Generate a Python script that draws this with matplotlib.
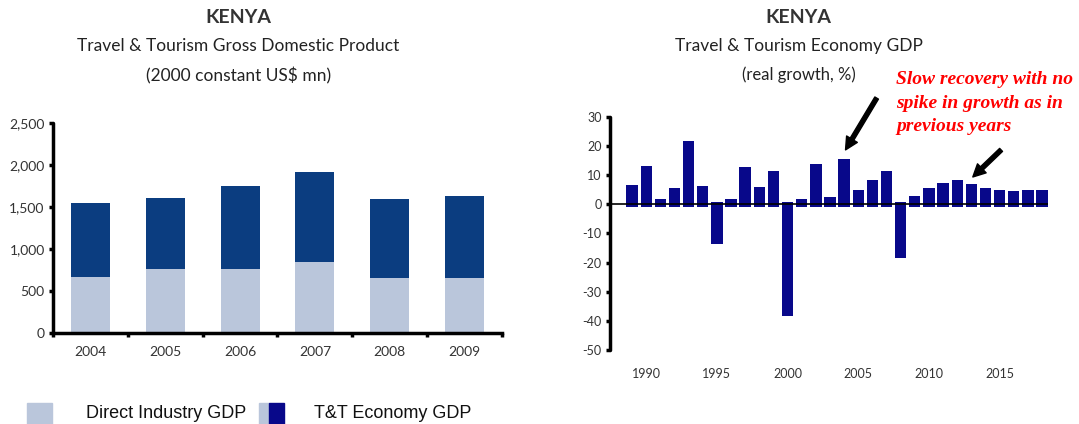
#!/usr/bin/env python
import matplotlib
matplotlib.use('Agg')
import matplotlib.pyplot as plt
from matplotlib.patches import Rectangle
import numpy as np

# left chart: T&T GDP, 2000 constant US$ mn
gdp_years = ['2004', '2005', '2006', '2007', '2008', '2009']
direct_gdp = [665, 763, 763, 843, 653, 653]
economy_gdp = [1551, 1610, 1745, 1919, 1590, 1626]

# right chart: T&T economy GDP real growth, %
growth_years = list(range(1989, 2019))
growth = [6.6, 13.1, 1.7, 5.5, 21.7, 6.3, -13.7, 1.8, 12.9, 5.8,
          11.4, -38.4, 1.8, 13.8, 2.5, 15.7, 5.1, 8.3, 11.4, -18.3,
          3.0, 5.7, 7.4, 8.3, 7.1, 5.7, 4.9, 4.7, 5.0, 5.0]
growth_ticks = [1990, 1995, 2000, 2005, 2010, 2015]

LIGHT = '#bac6db'
DARK = '#0b3d80'
NAVY = '#08088a'
TFONT = 'Lato'


def style_spines(ax):
    for s in ['top', 'right']:
        ax.spines[s].set_visible(False)
    ax.spines['left'].set_linewidth(2.5)
    ax.spines['left'].set_capstyle('round')


def main():
    fig = plt.figure(figsize=(10.79, 4.24), dpi=100)

    # ---- left: stacked bars
    ax1 = fig.add_axes([0.0491, 0.2146, 0.4161, 0.4953])
    x = np.arange(len(gdp_years))
    upper = np.array(economy_gdp) - np.array(direct_gdp)
    ax1.bar(x, direct_gdp, width=0.52, color=LIGHT, zorder=2)
    ax1.bar(x, upper, width=0.52, bottom=direct_gdp, color=DARK, zorder=2)
    ax1.set_xlim(-0.5, len(gdp_years) - 0.5)
    ax1.set_ylim(0, 2500)
    style_spines(ax1)
    ax1.spines['bottom'].set_linewidth(2.5)
    ax1.set_yticks(range(0, 2501, 500))
    ax1.set_yticklabels(['{:,}'.format(v) for v in range(0, 2501, 500)],
                        fontfamily=TFONT, fontsize=10, color='#333333')
    ax1.set_xticks(np.arange(-0.5, len(gdp_years), 1.0))
    ax1.set_xticklabels([])
    ax1.set_xticks(x, minor=True)
    ax1.set_xticklabels(gdp_years, minor=True, fontfamily=TFONT, fontsize=10, color='#333333')
    ax1.tick_params(axis='x', which='major', length=3, width=2.5, direction='out')
    ax1.tick_params(axis='x', which='minor', length=0, pad=9)
    ax1.tick_params(axis='y', length=3, width=2.5, pad=3)

    fig.text(0.221, 0.958, 'KENYA', ha='center', va='center', fontfamily=TFONT,
             fontweight='bold', fontsize=14, color='#333333')
    fig.text(0.221, 0.892, 'Travel & Tourism Gross Domestic Product', ha='center', va='center',
             fontfamily=TFONT, fontsize=12.5, color='#222222')
    fig.text(0.221, 0.821, '(2000 constant US$ mn)', ha='center', va='center',
             fontfamily=TFONT, fontsize=12.5, color='#222222')

    # ---- right: growth bars
    ax2 = fig.add_axes([0.5653, 0.1745, 0.4060, 0.5496])
    stub = 0.8
    sgn = np.sign(growth)
    ax2.bar(growth_years, np.array(growth) + sgn * stub, bottom=-sgn * stub,
            width=0.8, color=NAVY, zorder=2)
    ax2.axhline(0, color='black', lw=1.2, zorder=3)
    ax2.set_xlim(1987.44, 2018.42)
    ax2.set_ylim(-50, 30)
    style_spines(ax2)
    ax2.spines['bottom'].set_visible(False)
    ax2.set_yticks(range(-50, 31, 10))
    ax2.set_yticklabels([str(v) for v in range(-50, 31, 10)], fontfamily=TFONT,
                        fontsize=9, color='#333333')
    ax2.set_xticks(growth_ticks)
    ax2.set_xticklabels([str(v) for v in growth_ticks], fontfamily=TFONT, fontsize=9,
                        color='#333333')
    ax2.tick_params(axis='x', length=0, pad=13)
    ax2.tick_params(axis='y', length=3, width=2.5, pad=3)

    fig.text(0.740, 0.958, 'KENYA', ha='center', va='center', fontfamily=TFONT,
             fontweight='bold', fontsize=14, color='#333333')
    fig.text(0.740, 0.892, 'Travel & Tourism Economy GDP', ha='center', va='center',
             fontfamily=TFONT, fontsize=12.5, color='#222222')
    fig.text(0.740, 0.823, '(real growth, %)', ha='center', va='center',
             fontfamily=TFONT, fontsize=12, color='#222222')

    fig.text(0.8304, 0.832, 'Slow recovery with no\nspike in growth as in\nprevious years',
             ha='left', va='top', fontfamily='Liberation Serif', fontweight='bold',
             fontstyle='italic', fontsize=14, color='red', linespacing=1.5)

    arrow = dict(arrowstyle='simple,head_length=0.9,head_width=0.9,tail_width=0.3',
                 color='black', shrinkA=0, shrinkB=0)
    ax2.annotate('', xy=(2004.1, 18.7), xytext=(2006.3, 36.5), arrowprops=arrow,
                 annotation_clip=False)
    ax2.annotate('', xy=(2013.1, 9.4), xytext=(2015.1, 18.7), arrowprops=arrow,
                 annotation_clip=False)

    # ---- legend at bottom
    H = 424.0
    W = 1079.0
    fig.add_artist(Rectangle((27 / W, 0), 25 / W, 21 / H, color=LIGHT,
                             transform=fig.transFigure))
    fig.text(86 / W, 1 - 414 / H, 'Direct Industry GDP', ha='left', va='center',
             fontfamily='Liberation Sans', fontsize=13, color='#111111')
    fig.add_artist(Rectangle((259 / W, 0), 10 / W, 21 / H, color=LIGHT,
                             transform=fig.transFigure))
    fig.add_artist(Rectangle((269 / W, 0), 15 / W, 21 / H, color=NAVY,
                             transform=fig.transFigure))
    fig.text(314 / W, 1 - 414 / H, 'T&T Economy GDP', ha='left', va='center',
             fontfamily='Liberation Sans', fontsize=13, color='#111111')

    fig.savefig('out.png', dpi=100)


if __name__ == '__main__':
    main()
